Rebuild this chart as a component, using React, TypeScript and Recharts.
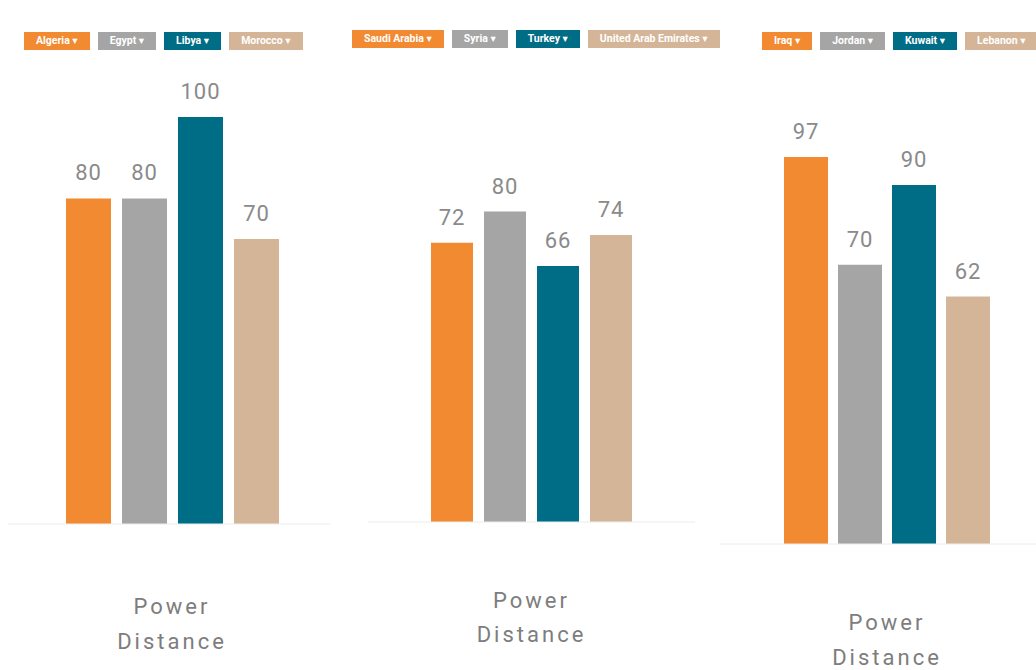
import { BarChart, Bar, XAxis, YAxis, Legend, LabelList } from 'recharts';

const dimensions = ['Power Distance'];
const colors = ['#f28a31', '#a5a5a5', '#006d87', '#d5b597'];

const countriesA = ['Algeria', 'Egypt', 'Libya', 'Morocco'];
const valuesA = [80, 80, 100, 70];

const countriesB = ['Saudi Arabia', 'Syria', 'Turkey', 'United Arab Emirates'];
const valuesB = [72, 80, 66, 74];

const countriesC = ['Iraq', 'Jordan', 'Kuwait', 'Lebanon'];
const valuesC = [97, 70, 90, 62];

const font = 'Roboto, "DejaVu Sans", sans-serif';

function buildRows(countries: string[], values: number[]) {
  return dimensions.map((dim) => {
    const row: Record<string, string | number> = { dim };
    countries.forEach((c, i) => {
      row[c] = values[i];
    });
    return row;
  });
}

const LegendButtons = ({ payload }: any) => (
  <div style={{ display: 'flex', gap: 8 }}>
    {(payload || []).map((item: any) => (
      <div
        key={item.value}
        style={{
          background: item.color,
          color: '#fff',
          fontFamily: font,
          fontSize: 10.5,
          fontWeight: 700,
          height: 18,
          lineHeight: '18px',
          padding: '0 12px',
          whiteSpace: 'nowrap',
        }}
      >
        {item.value} ▾
      </div>
    ))}
  </div>
);

const DimTick = ({ x, y, payload, d1, d2 }: any) => {
  const [first, ...rest] = String(payload.value).split(' ');
  return (
    <g>
      <text x={x} y={y + d1} textAnchor="middle" fill="#7d7d7d" fontSize={22} letterSpacing={3} fontFamily={font}>
        {first}
      </text>
      <text x={x} y={y + d2} textAnchor="middle" fill="#7d7d7d" fontSize={22} letterSpacing={3} fontFamily={font}>
        {rest.join(' ')}
      </text>
    </g>
  );
};

type PanelProps = {
  countries: string[];
  values: number[];
  left: number;
  width: number;
  margin: { top: number; right: number; bottom: number; left: number };
  axisHeight: number;
  barSize: number;
  barGap: number;
  padLeft: number;
  legendPos: { left: number; top: number };
  tickDy: [number, number];
  showYLine: boolean;
};

function Panel(p: PanelProps) {
  const rows = buildRows(p.countries, p.values);
  return (
    <div style={{ position: 'absolute', left: p.left, top: 0 }}>
      <BarChart width={p.width} height={670} data={rows} margin={p.margin} barSize={p.barSize} barGap={p.barGap}>
        <XAxis
          dataKey="dim"
          height={p.axisHeight}
          tickLine={false}
          axisLine={{ stroke: '#ececec' }}
          padding={{ left: p.padLeft, right: 0 }}
          tick={(t: any) => <DimTick {...t} d1={p.tickDy[0]} d2={p.tickDy[1]} />}
        />
        <YAxis
          domain={[0, 100]}
          width={0}
          tick={false}
          tickLine={false}
          axisLine={p.showYLine ? { stroke: '#efefef' } : false}
        />
        <Legend
          layout="horizontal"
          verticalAlign="middle"
          align="center"
          content={<LegendButtons />}
          wrapperStyle={{ top: p.legendPos.top, left: p.legendPos.left, width: 'auto', height: 18 }}
        />
        {p.countries.map((c, i) => (
          <Bar key={c} dataKey={c} fill={colors[i]} isAnimationActive={false}>
            <LabelList
              dataKey={c}
              position="top"
              offset={18}
              fill="#8a8a8a"
              fontSize={22}
              letterSpacing={1}
              fontFamily={font}
            />
          </Bar>
        ))}
      </BarChart>
    </div>
  );
}

export default function App() {
  return (
    <div
      style={{
        position: 'absolute',
        left: 0,
        top: 0,
        width: 1036,
        height: 670,
        overflow: 'hidden',
        background: '#fff',
      }}
    >
      <Panel
        countries={countriesA}
        values={valuesA}
        left={0}
        width={340}
        margin={{ top: 117, right: 10, bottom: 0, left: 8 }}
        axisHeight={146}
        barSize={45}
        barGap={11}
        padLeft={6}
        legendPos={{ left: 24, top: 32 }}
        tickDy={[82, 117]}
        showYLine={false}
      />
      <Panel
        countries={countriesB}
        values={valuesB}
        left={340}
        width={370}
        margin={{ top: 134, right: 15, bottom: 0, left: 28 }}
        axisHeight={148}
        barSize={42}
        barGap={11}
        padLeft={0}
        legendPos={{ left: 12, top: 30 }}
        tickDy={[78, 112]}
        showYLine={true}
      />
      <Panel
        countries={countriesC}
        values={valuesC}
        left={700}
        width={354}
        margin={{ top: 145, right: 0, bottom: 0, left: 20 }}
        axisHeight={126}
        barSize={44}
        barGap={10}
        padLeft={0}
        legendPos={{ left: 62, top: 32 }}
        tickDy={[78, 113]}
        showYLine={true}
      />
    </div>
  );
}
